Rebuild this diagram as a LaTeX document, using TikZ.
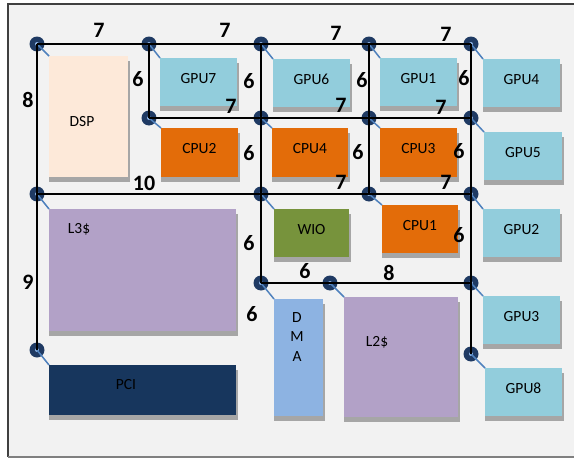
\documentclass[tikz,border=0pt]{standalone}
\usepackage{fontspec}
\setmainfont{Carlito}
\definecolor{bgc}{HTML}{F2F2F2}
\definecolor{framec}{HTML}{404040}
\definecolor{shadowc}{HTML}{A6A6A6}
\definecolor{gpuc}{HTML}{92CDDC}
\definecolor{cpuc}{HTML}{E36C09}
\definecolor{dspc}{HTML}{FDE9D9}
\definecolor{cachec}{HTML}{B2A1C7}
\definecolor{pcic}{HTML}{17365D}
\definecolor{wioc}{HTML}{77933C}
\definecolor{dmac}{HTML}{8DB3E2}
\definecolor{dotc}{HTML}{1F3A63}
\definecolor{dotmid}{HTML}{8DB3E2}
\definecolor{linkc}{HTML}{4F81BD}
\tikzset{
  blk/.style={draw=none, inner sep=0pt, outer sep=0pt, anchor=north west,
    font=\fontsize{15.5}{19.5}\selectfont, text height=10pt, text depth=8pt},
  blktext/.style={inner sep=0pt, font=\fontsize{15.5}{19.5}\selectfont},
  router/.style={circle, fill=dotc, inner sep=0pt, minimum size=15pt,
    path picture={\fill[dotmid] (path picture bounding box.center) circle (2pt);}},
  bus/.style={draw=black, line width=1.8pt},
  link/.style={draw=linkc, line width=1.5pt},
  wt/.style={inner sep=0pt, font=\fontsize{22}{22}\selectfont\bfseries}
}
\newcommand{\chipblock}[7]{%
  \fill[shadowc] (#2,#3+5) rectangle (#4+1.5,#5+5);
  \node[blk, fill=#6, minimum width={(#4-#2)*1pt}, minimum height={(#5-#3)*1pt}] (#1) at (#2,#3) {#7};
}
\begin{document}
\begin{tikzpicture}[x=1pt,y=-1pt]
\useasboundingbox (0,0) rectangle (574,458);
\fill[white] (0,0) rectangle (574,458);
\fill[bgc] (8,4) rectangle (574,457);
\draw[framec, line width=1.5pt] (574,4) -- (8,4) -- (8,457);
\draw[gray, line width=1.2pt] (8,457) -- (574,457);

% blocks
\chipblock{DSP}{49}{56}{128}{177}{dspc}{}
\chipblock{GPU7}{160}{58}{237}{106}{gpuc}{GPU7}
\chipblock{GPU6}{273}{59}{350}{107}{gpuc}{GPU6}
\chipblock{GPU1}{380}{58}{457}{106}{gpuc}{GPU1}
\chipblock{GPU4}{483}{59}{560}{107}{gpuc}{GPU4}
\chipblock{CPU2}{161}{128}{238}{177}{cpuc}{CPU2}
\chipblock{CPU4}{272}{128}{348}{177}{cpuc}{CPU4}
\chipblock{CPU3}{380}{128}{457}{177}{cpuc}{CPU3}
\chipblock{GPU5}{484}{132}{562}{180}{gpuc}{GPU5}
\chipblock{L3}{49}{209}{236}{331}{cachec}{}
\chipblock{WIO}{274}{209}{349}{257}{wioc}{WIO}
\chipblock{CPU1}{382}{205}{458}{253}{cpuc}{CPU1}
\chipblock{GPU2}{483}{209}{560}{257}{gpuc}{GPU2}
\chipblock{DMA}{274}{299}{323}{416}{dmac}{}
\chipblock{L2}{344}{297}{458}{417}{cachec}{}
\chipblock{GPU3}{483}{296}{560}{344}{gpuc}{GPU3}
\chipblock{PCI}{49}{365}{236}{415}{pcic}{}
\chipblock{GPU8}{485}{368}{562}{416}{gpuc}{GPU8}

\node[blktext] (tDSP) at (82,122) {DSP};
\node[blktext] (tL3) at (79,229) {L3\$};
\node[blktext] (tL2) at (377,342) {L2\$};
\node[blktext] (tPCI) at (126,385) {PCI};
\node[blktext, align=center, anchor=north] (tDMA) at (297,312) {D\\M\\A};

% routers
\node[router] (d11) at (37,44) {};
\node[router] (d12) at (149,44) {};
\node[router] (d13) at (261,44) {};
\node[router] (d14) at (369,44) {};
\node[router] (d15) at (471,44) {};
\node[router] (d22) at (149,118) {};
\node[router] (d23) at (261,118) {};
\node[router] (d24) at (369,118) {};
\node[router] (d25) at (471,118) {};
\node[router] (d31) at (37,194) {};
\node[router] (d33) at (261,194) {};
\node[router] (d34) at (369,194) {};
\node[router] (d35) at (471,194) {};
\node[router] (d43) at (261,283) {};
\node[router] (d44) at (330,283) {};
\node[router] (d45) at (471,283) {};
\node[router] (d51) at (37,350) {};
\node[router] (d55) at (471,354) {};

% router-to-block links
\draw[link] (d11.center) -- (DSP.north west);
\draw[link] (d12.center) -- (GPU7.north west);
\draw[link] (d13.center) -- (GPU6.north west);
\draw[link] (d14.center) -- (GPU1.north west);
\draw[link] (d15.center) -- (GPU4.north west);
\draw[link] (d22.center) -- (CPU2.north west);
\draw[link] (d23.center) -- (CPU4.north west);
\draw[link] (d24.center) -- (CPU3.north west);
\draw[link] (d25.center) -- (GPU5.north west);
\draw[link] (d31.center) -- (L3.north west);
\draw[link] (d33.center) -- (WIO.north west);
\draw[link] (d34.center) -- (CPU1.north west);
\draw[link] (d35.center) -- (GPU2.north west);
\draw[link] (d43.center) -- (DMA.north west);
\draw[link] (d44.center) -- (L2.north west);
\draw[link] (d45.center) -- (GPU3.north west);
\draw[link] (d51.center) -- (PCI.north west);
\draw[link] (d55.center) -- (GPU8.north west);

% buses
\draw[bus] (d11.center) -- (d12.center) -- (d13.center) -- (d14.center) -- (d15.center);
\draw[bus] (d22.center) -- (d23.center) -- (d24.center) -- (d25.center);
\draw[bus] (d31.center) -- (d33.center) -- (d34.center) -- (d35.center);
\draw[bus] (d43.center) -- (d44.center) -- (d45.center);
\draw[bus] (d11.center) -- (d31.center) -- (d51.center);
\draw[bus] (d12.center) -- (d22.center);
\draw[bus] (d13.center) -- (d23.center) -- (d33.center) -- (d43.center);
\draw[bus] (d14.center) -- (d24.center) -- (d34.center);
\draw[bus] (d15.center) -- (d25.center) -- (d35.center) -- (d45.center) -- (d55.center);

% weights
\node[wt] (w1) at (99,30) {7};
\node[wt] (w2) at (225,30) {7};
\node[wt] (w3) at (336,33) {7};
\node[wt] (w4) at (446,34) {7};
\node[wt] (w5) at (28,100) {8};
\node[wt] (w6) at (138,79) {6};
\node[wt] (w7) at (249,81) {6};
\node[wt] (w8) at (362,80) {6};
\node[wt] (w9) at (464,78) {6};
\node[wt] (w10) at (231,106) {7};
\node[wt] (w11) at (341,105) {7};
\node[wt] (w12) at (441,107) {7};
\node[wt] (w13) at (249,153) {6};
\node[wt] (w14) at (358,152) {6};
\node[wt] (w15) at (459,151) {6};
\node[wt] (w16) at (144,183) {10};
\node[wt] (w17) at (341,182) {7};
\node[wt] (w18) at (446,182) {7};
\node[wt] (w19) at (249,243) {6};
\node[wt] (w20) at (459,235) {6};
\node[wt] (w21) at (305,271) {6};
\node[wt] (w22) at (389,273) {8};
\node[wt] (w23) at (252,314) {6};
\node[wt] (w24) at (28,282) {9};
\end{tikzpicture}
\end{document}
